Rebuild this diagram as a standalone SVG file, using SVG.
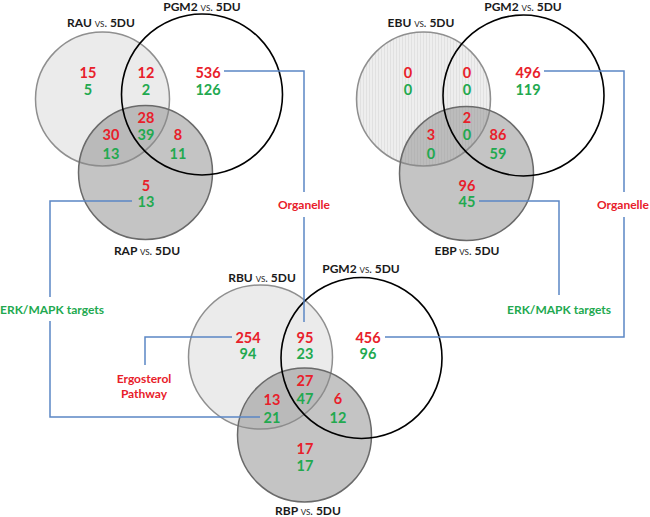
<svg xmlns="http://www.w3.org/2000/svg" width="650" height="517" viewBox="0 0 650 517">
<style>
text{font-family:Lato,"Open Sans","Liberation Sans",sans-serif;font-weight:bold;text-anchor:middle}
.n{font-size:14.5px}
.r{fill:#e8202a}
.g{fill:#22a94f}
.lbl{font-size:12px;fill:#1a1a1a}
.vs{font-weight:normal;font-variant:small-caps;font-size:11px}
.tag{font-size:12px}
.up{fill:#ebebeb;stroke:#8f8f8f;stroke-width:1.5}
.upS{fill:url(#stripes);stroke:#8f8f8f;stroke-width:1.5}
.dn{fill:#8a8a8a;fill-opacity:0.5;stroke:#6a6a6a;stroke-width:1.5}
.pg{fill:none;stroke:#000;stroke-width:1.6}
.ln{fill:none;stroke:#5b87c5;stroke-width:1.5}
</style>
<defs>
<pattern id="stripes" width="3" height="10" patternUnits="userSpaceOnUse">
<rect width="3" height="10" fill="#eeeeee"/>
<rect width="1" height="10" fill="#e1e1e1"/>
</pattern>
</defs>
<rect width="650" height="517" fill="#fff"/>

<g id="venn-ra">
<circle class="up" cx="102.5" cy="99" r="67"/>
<circle class="dn" cx="145.5" cy="172.5" r="67"/>
<circle class="pg" cx="202" cy="94.5" r="80.5"/>
<text class="lbl" x="101" y="27">RAU <tspan class="vs">vs.</tspan> 5DU</text>
<text class="lbl" x="202" y="11">PGM2 <tspan class="vs">vs.</tspan> 5DU</text>
<text class="lbl" x="147" y="255">RAP <tspan class="vs">vs.</tspan> 5DU</text>
<text class="n r" x="88" y="77.5">15</text><text class="n g" x="88" y="95">5</text>
<text class="n r" x="146" y="77.5">12</text><text class="n g" x="146" y="95">2</text>
<text class="n r" x="208" y="77.5">536</text><text class="n g" x="208" y="95">126</text>
<text class="n r" x="146" y="122.5">28</text><text class="n g" x="146" y="139.5">39</text>
<text class="n r" x="111" y="139.5">30</text><text class="n g" x="111" y="158.5">13</text>
<text class="n r" x="178" y="139.5">8</text><text class="n g" x="178" y="158.5">11</text>
<text class="n r" x="146" y="190.5">5</text><text class="n g" x="146" y="207">13</text>
</g>

<g id="venn-eb">
<circle class="upS" cx="423.5" cy="99" r="67"/>
<circle class="dn" cx="466.5" cy="173.5" r="67"/>
<circle class="pg" cx="523.5" cy="95.5" r="80.5"/>
<text class="lbl" x="421" y="27">EBU <tspan class="vs">vs.</tspan> 5DU</text>
<text class="lbl" x="523" y="11">PGM2 <tspan class="vs">vs.</tspan> 5DU</text>
<text class="lbl" x="467" y="255">EBP <tspan class="vs">vs.</tspan> 5DU</text>
<text class="n r" x="408" y="77.5">0</text><text class="n g" x="408" y="95">0</text>
<text class="n r" x="467" y="77.5">0</text><text class="n g" x="467" y="95">0</text>
<text class="n r" x="528" y="77.5">496</text><text class="n g" x="528" y="95">119</text>
<text class="n r" x="467" y="122.5">2</text><text class="n g" x="467" y="139.5">0</text>
<text class="n r" x="431" y="139.5">3</text><text class="n g" x="431" y="158.5">0</text>
<text class="n r" x="498" y="139.5">86</text><text class="n g" x="498" y="158.5">59</text>
<text class="n r" x="467" y="190.5">96</text><text class="n g" x="467" y="207">45</text>
</g>

<g id="venn-rb">
<circle class="up" cx="260.5" cy="357" r="72"/>
<circle class="dn" cx="304.5" cy="435" r="67"/>
<circle class="pg" cx="361.5" cy="358" r="80.5"/>
<text class="lbl" x="262" y="282">RBU <tspan class="vs">vs.</tspan> 5DU</text>
<text class="lbl" x="361" y="273">PGM2 <tspan class="vs">vs.</tspan> 5DU</text>
<text class="lbl" x="308" y="515">RBP <tspan class="vs">vs.</tspan> 5DU</text>
<text class="n r" x="248" y="342.5">254</text><text class="n g" x="248" y="359">94</text>
<text class="n r" x="305" y="342.5">95</text><text class="n g" x="305" y="359">23</text>
<text class="n r" x="368" y="342.5">456</text><text class="n g" x="368" y="359">96</text>
<text class="n r" x="305" y="386">27</text><text class="n g" x="305" y="403.5">47</text>
<text class="n r" x="272" y="405">13</text><text class="n g" x="272" y="422.5">21</text>
<text class="n r" x="338" y="403.5">6</text><text class="n g" x="338" y="422.5">12</text>
<text class="n r" x="305" y="453.5">17</text><text class="n g" x="305" y="471">17</text>
</g>

<g id="connectors">
<polyline class="ln" points="224,71 304,71 304,192"/>
<polyline class="ln" points="304,217 304,322"/>
<polyline class="ln" points="132,201 50,201 50,297"/>
<polyline class="ln" points="50,321 50,417 260,417"/>
<polyline class="ln" points="232,337 145,337 145,365"/>
<polyline class="ln" points="385,337 624,337 624,217"/>
<polyline class="ln" points="624,192 624,71 544,71"/>
<polyline class="ln" points="479,201 559,201 559,295"/>
</g>

<g id="tag-organelle-1"><text class="tag r" x="304" y="208.5">Organelle</text></g>
<g id="tag-organelle-2"><text class="tag r" x="623" y="208.5">Organelle</text></g>
<g id="tag-erk-1"><text class="tag g" x="52" y="313.5">ERK/MAPK targets</text></g>
<g id="tag-erk-2"><text class="tag g" x="559" y="313.5">ERK/MAPK targets</text></g>
<g id="tag-ergosterol"><text class="tag r" x="144" y="382.5">Ergosterol</text><text class="tag r" x="144" y="397.5">Pathway</text></g>
</svg>
